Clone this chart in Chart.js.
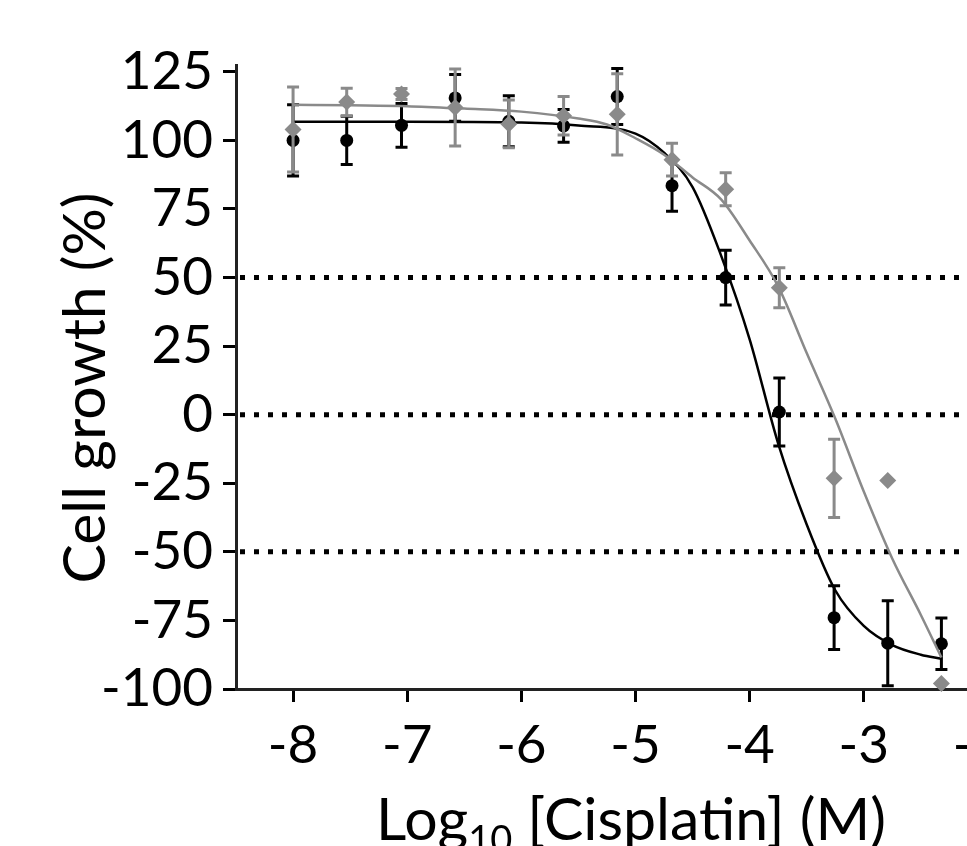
<!DOCTYPE html>
<html>
<head>
<meta charset="utf-8">
<script src="https://cdn.jsdelivr.net/npm/chart.js@4.4.0/dist/chart.umd.min.js"></script>
<style>
html, body { margin: 0; padding: 0; background: #fff; overflow: hidden; }
#wrap { position: absolute; left: 0; top: 0; width: 1060px; height: 900px; }
</style>
</head>
<body>
<div id="wrap"><canvas id="myChart"></canvas></div>
<script>
// log10 [cisplatin] (M), 3-fold dilutions
var logConc = [-8, -7.53, -7.05, -6.58, -6.11, -5.63, -5.16, -4.68, -4.21, -3.74, -3.26, -2.79, -2.32];

// black circles
var blackMean = [100, 100, 105.5, 115.5, 107, 105.3, 116, 83.5, 50, 1, -74, -83.3, -83.5];
var blackErr  = [13, 8.8, 8, 8.5, 9.3, 6, 10.2, 9.3, 10, 12.4, 11.6, 15.5, 9.4];

// grey diamonds
var greyMean = [104, 114, 116.9, 112, 106, 109, 109.5, 93, 82.2, 46.3, -23.2, -24, -98];
var greyErr  = [15.5, 5, 2, 14, 8.7, 7, 14.8, 6, 6, 7.3, 14.3, 0, 0];

// fitted curves
var blackFitX = [-8, -7, -6, -5.5, -5, -4.75, -4.5, -4.25, -4, -3.75, -3.5, -3.25, -3, -2.75, -2.5, -2.32];
var blackFitY = [106.8, 106.8, 106.5, 105.4, 102.5, 95.5, 83, 58, 27.5, -10.5, -40, -64, -77, -84, -87.5, -89];
var greyFitX = [-8, -7.5, -7, -6.5, -6, -5.5, -5.25, -5, -4.75, -4.5, -4.25, -4, -3.75, -3.5, -3.25, -3, -2.75, -2.5, -2.32];
var greyFitY = [113, 112.8, 112.5, 111.6, 110.5, 108, 105.8, 100.8, 94.8, 86.5, 78.5, 63.5, 46.8, 22.5, -1.4, -28, -52.5, -73, -88.5];

// dotted reference levels
var refLevels = [50, 0, -50];

var xTicks = [-8, -7, -6, -5, -4, -3, -2];
var yTicks = [125, 100, 75, 50, 25, 0, -25, -50, -75, -100];
var xMin = -8.5, xMax = -1.5;
var yMin = -100, yMax = 127.5;

function pts(xs, ys) {
    return xs.map(function (x, i) { return {x: x, y: ys[i]}; });
}

var GREY = '#8a8a8a';
var tickFont = {family: 'Lato', size: 53};

var datasets = [];
refLevels.forEach(function (lv) {
    datasets.push({
        data: [{x: xMin, y: lv}, {x: xMax, y: lv}],
        showLine: true, pointRadius: 0,
        borderColor: '#000', borderWidth: 5, borderDash: [5, 9], borderDashOffset: -4, borderCapStyle: 'butt',
        order: 10
    });
});
datasets.push({
    data: pts(blackFitX, blackFitY), showLine: true, pointRadius: 0,
    borderColor: '#000', borderWidth: 2.5, cubicInterpolationMode: 'monotone', order: 9
});
datasets.push({
    data: pts(logConc, blackMean), errors: blackErr, errorColor: '#000',
    pointStyle: 'circle', pointRadius: 6.5, backgroundColor: '#000', borderColor: '#000', borderWidth: 0,
    clip: false, order: 8
});
datasets.push({
    data: pts(greyFitX, greyFitY), showLine: true, pointRadius: 0,
    borderColor: GREY, borderWidth: 2.5, cubicInterpolationMode: 'monotone', order: 7
});
datasets.push({
    data: pts(logConc, greyMean), errors: greyErr, errorColor: GREY,
    pointStyle: 'rectRot', pointRadius: 8.5, backgroundColor: GREY, borderColor: GREY, borderWidth: 0,
    clip: false, order: 6
});

// error bars drawn just under each marker dataset
var errorBars = {
    id: 'errorBars',
    beforeDatasetDraw: function (chart, args) {
        var ds = chart.data.datasets[args.index];
        if (!ds.errors) return;
        var ctx = chart.ctx, sx = chart.scales.x, sy = chart.scales.y;
        ctx.save();
        ctx.strokeStyle = ds.errorColor;
        ctx.lineWidth = 3;
        ds.data.forEach(function (p, i) {
            var e = ds.errors[i];
            if (!e) return;
            var px = sx.getPixelForValue(p.x);
            var top = sy.getPixelForValue(p.y + e), bot = sy.getPixelForValue(p.y - e);
            ctx.beginPath();
            ctx.moveTo(px, top); ctx.lineTo(px, bot);
            ctx.moveTo(px - 6, top); ctx.lineTo(px + 6, top);
            ctx.moveTo(px - 6, bot); ctx.lineTo(px + 6, bot);
            ctx.stroke();
        });
        ctx.restore();
    }
};

// axis titles (x title needs a subscript)
var axisTitles = {
    id: 'axisTitles',
    afterDraw: function (chart) {
        var ctx = chart.ctx;
        ctx.save();
        ctx.fillStyle = '#000';
        ctx.textBaseline = 'alphabetic';
        ctx.font = '59px Lato';

        ctx.save();
        ctx.translate(105, 388);
        ctx.rotate(-Math.PI / 2);
        ctx.textAlign = 'center';
        ctx.fillText('Cell growth (%)', 0, 0);
        ctx.restore();

        var a = 'Log', sub = '10', b = ' [Cisplatin] (M)';
        ctx.textAlign = 'left';
        ctx.font = '59px Lato';
        var wa = ctx.measureText(a).width, wb = ctx.measureText(b).width;
        ctx.font = '38px Lato';
        var ws = ctx.measureText(sub).width;
        var x0 = 631 - (wa + ws + wb) / 2, base = 840;
        ctx.font = '59px Lato';
        ctx.fillText(a, x0, base);
        ctx.font = '38px Lato';
        ctx.fillText(sub, x0 + wa, base + 13);
        ctx.font = '59px Lato';
        ctx.fillText(b, x0 + wa + ws, base);
        ctx.restore();
    }
};

var ctx = document.getElementById('myChart').getContext('2d');
var chart = new Chart(ctx, {
    type: 'scatter',
    data: {datasets: datasets},
    options: {
        responsive: true,
        maintainAspectRatio: false,
        animation: false,
        layout: {padding: {top: 65, right: 25, left: 0, bottom: 0}},
        plugins: {legend: {display: false}, tooltip: {enabled: false}},
        scales: {
            x: {
                type: 'linear', min: xMin, max: xMax,
                afterFit: function (s) { s.height = 211; },
                afterBuildTicks: function (s) { s.ticks = xTicks.map(function (v) { return {value: v}; }); },
                grid: {display: true, drawOnChartArea: false, tickLength: 13, tickWidth: 3, tickColor: '#000'},
                border: {display: true, width: 3, color: '#222'},
                ticks: {color: '#000', font: tickFont, padding: 12, maxRotation: 0,
                        callback: function (v) { return String(v); }}
            },
            y: {
                type: 'linear', min: yMin, max: yMax,
                afterFit: function (s) { s.width = 236; },
                afterBuildTicks: function (s) { s.ticks = yTicks.map(function (v) { return {value: v}; }); },
                grid: {display: true, drawOnChartArea: false, tickLength: 13, tickWidth: 3, tickColor: '#000'},
                border: {display: true, width: 3, color: '#222'},
                ticks: {color: '#000', font: tickFont, padding: 10,
                        callback: function (v) { return String(v); }}
            }
        }
    },
    plugins: [errorBars, axisTitles]
});
</script>
</body>
</html>
